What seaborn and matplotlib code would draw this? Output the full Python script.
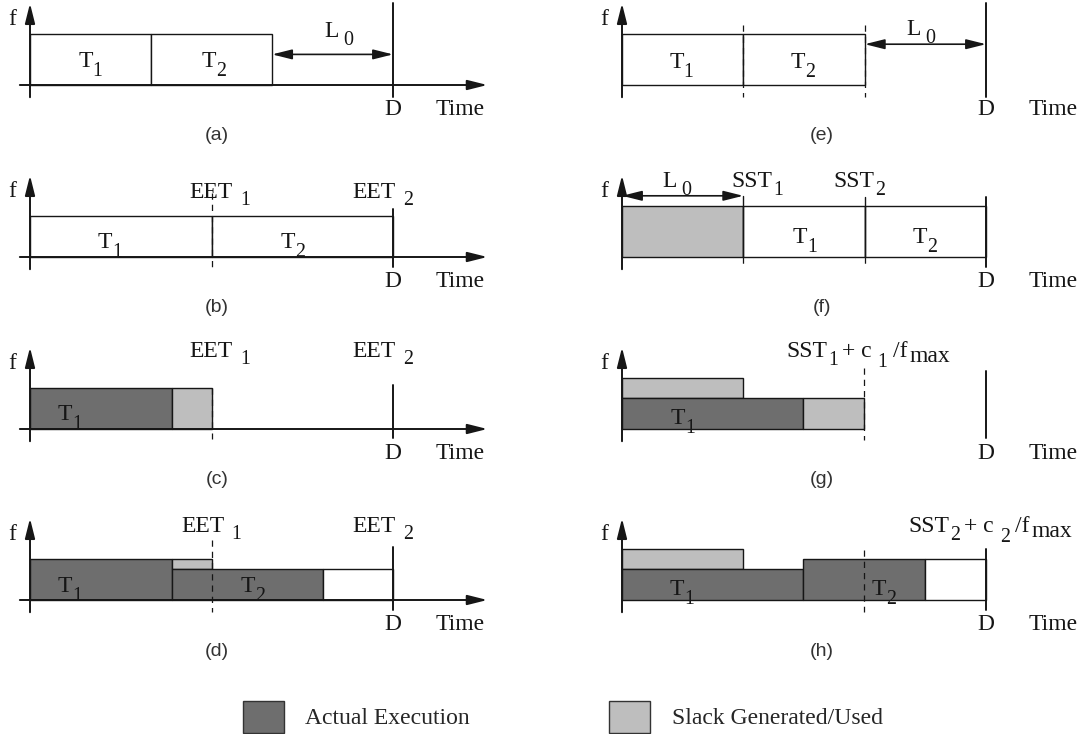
import matplotlib
matplotlib.use("Agg")
import matplotlib.pyplot as plt
import seaborn as sns
from matplotlib.patches import Patch

sns.set_theme(style="white")
plt.rcParams["font.family"] = ["Liberation Serif", "DejaVu Serif"]

# time is in units of the deadline D, frequency relative to f_max
# each block: (start, end, f_low, f_high, kind)
sched_a = [(0.0, 0.333, 0.0, 1.0, "open"), (0.333, 0.667, 0.0, 1.0, "open")]
sched_b = [(0.0, 0.5, 0.0, 0.8, "open"), (0.5, 1.0, 0.0, 0.8, "open")]
sched_c = [(0.0, 0.39, 0.0, 0.8, "exec"), (0.39, 0.5, 0.0, 0.8, "slack")]
sched_d = [(0.0, 0.39, 0.0, 0.8, "exec"), (0.39, 0.5, 0.6, 0.8, "slack"),
           (0.39, 0.807, 0.0, 0.6, "exec"), (0.807, 1.0, 0.0, 0.6, "open")]
sched_e = [(0.0, 0.333, 0.0, 1.0, "open"), (0.333, 0.667, 0.0, 1.0, "open")]
sched_f = [(0.0, 0.333, 0.0, 1.0, "slack"), (0.333, 0.667, 0.0, 1.0, "open"),
           (0.667, 1.0, 0.0, 1.0, "open")]
sched_g = [(0.0, 0.333, 0.6, 1.0, "slack"), (0.0, 0.497, 0.0, 0.6, "exec"),
           (0.497, 0.665, 0.0, 0.6, "slack")]
sched_h = [(0.0, 0.333, 0.6, 1.0, "slack"), (0.0, 0.497, 0.0, 0.6, "exec"),
           (0.497, 0.832, 0.0, 0.8, "exec"), (0.832, 1.0, 0.0, 0.8, "open")]

# slack L0 arrows: (from, to, level)
slack_a = [(0.667, 1.0, 0.6)]
slack_e = [(0.667, 1.0, 0.8)]
slack_f = [(0.0, 0.333, 1.2)]

# deadline line extent (top, bottom)
deadline = {"a": (1.6, -0.24), "b": (0.94, -0.2), "c": (0.86, -0.18), "d": (1.04, -0.2),
            "e": (1.6, -0.24), "f": (1.18, -0.2), "g": (1.14, -0.18), "h": (1.0, -0.2)}

# marker lines: (time, top, bottom, dashed)
marks = {
    "a": [],
    "b": [(0.5, 1.25, -0.22, True)],
    "c": [(0.5, 0.8, -0.2, True)],
    "d": [(0.5, 1.18, -0.24, True)],
    "e": [(0.333, 1.18, -0.24, True), (0.667, 1.18, -0.24, True)],
    "f": [(0.333, 1.2, 0.0, False), (0.667, 1.18, 0.0, False),
          (0.333, 0.0, -0.2, True), (0.667, 0.0, -0.2, True)],
    "g": [(0.665, 1.2, -0.22, True)],
    "h": [(0.665, 0.98, -0.24, True)],
}


def T(n):
    return [("T", 0, 0, 1.0), (n, 0, 9, 0.85)]


def EET(n):
    return [("EET", 0, 0, 1.0), (n, 7, 7, 0.85)]


def SST(n):
    return [("SST", 0, 0, 1.0), (n, 1, 8, 0.85)]


L0 = [("L", 0, 0, 1.0), ("0", 5, 8, 0.85)]


def formula(n):
    return [("SST", 0, 0, 1.0), (n, 1, 8, 0.85), ("+ c", 4, 0, 1.0),
            (n, 6, 10, 0.85), ("/f", 5, 0, 1.0), ("max", 2, 5, 1.0)]


labels = {
    "a": [(0.166, 0.35, T("1")), (0.507, 0.35, T("2")), (0.851, 0.94, L0)],
    "b": [(0.22, 0.18, T("1")), (0.725, 0.18, T("2")),
          (0.523, 1.16, EET("1")), (0.972, 1.16, EET("2"))],
    "c": [(0.11, 0.18, T("1")), (0.523, 1.41, EET("1")), (0.972, 1.41, EET("2"))],
    "d": [(0.11, 0.16, T("1")), (0.614, 0.16, T("2")),
          (0.499, 1.33, EET("1")), (0.972, 1.33, EET("2"))],
    "e": [(0.163, 0.33, T("1")), (0.497, 0.33, T("2")), (0.821, 0.98, L0)],
    "f": [(0.503, 0.27, T("1")), (0.832, 0.27, T("2")), (0.151, 1.37, L0),
          (0.371, 1.37, SST("1")), (0.651, 1.37, SST("2"))],
    "g": [(0.168, 0.1, T("1")), (0.676, 1.41, formula("1"))],
    "h": [(0.165, 0.1, T("1")), (0.72, 0.1, T("2")), (1.011, 1.33, formula("2"))],
}

DARK = "#6e6e6e"
LIGHT = "#bebebe"
FILL = {"open": "white", "exec": DARK, "slack": LIGHT}
INK = "#161616"
W, H = 1079, 734


def rich(ax, x, y, parts, size=17):
    r = ax.figure.canvas.get_renderer()
    items = []
    cx = 0.0
    for text, gap, drop, scale in parts:
        cx += gap
        t = ax.annotate(text, (x, y), xytext=(cx, -drop), textcoords="offset pixels",
                        ha="left", va="baseline", fontsize=size * scale, color=INK)
        items.append((t, cx, -drop))
        cx += t.get_window_extent(r).width
    for t, ox, oy in items:
        t.set_position((ox - cx / 2, oy))


fig = plt.figure(figsize=(W / 100, H / 100), dpi=100)

panels = [("a", sched_a, slack_a, 0, 85), ("b", sched_b, [], 0, 257),
          ("c", sched_c, [], 0, 429), ("d", sched_d, [], 0, 600),
          ("e", sched_e, slack_e, 1, 85), ("f", sched_f, slack_f, 1, 257),
          ("g", sched_g, [], 1, 429), ("h", sched_h, [], 1, 600)]

for key, sched, slack, col, base in panels:
    if col == 0:
        x0, wpx, origin, unit = 0, 540, 30, 363
        cap_x = 0.515
    else:
        x0, wpx, origin, unit = 540, 539, 622, 364
        cap_x = 0.55
    ax = fig.add_axes([x0 / W, 1 - (base + 85) / H, wpx / W, 170 / H])
    ax.set_xlim((x0 - origin) / unit, (x0 + wpx - origin) / unit)
    ax.set_ylim(-85 / 51, 85 / 51)
    ax.axis("off")

    for s, e, lo, hi, kind in sched:
        ax.bar(s, hi - lo, width=e - s, bottom=lo, align="edge",
               color=FILL[kind], edgecolor=INK, linewidth=1.0, zorder=2)

    for xm, top, bot, dashed in marks[key]:
        ax.plot([xm, xm], [top, bot], color=INK, lw=0.9 if dashed else 1.0,
                ls=(0, (5, 4)) if dashed else "-", zorder=3)

    top, bot = deadline[key]
    ax.plot([1.0, 1.0], [top, bot], color=INK, lw=1.4, zorder=3)

    # axes with arrow heads
    head = "-|>,head_length=0.6,head_width=0.15"
    ax.annotate("", xy=(1.26, 0), xytext=(-0.028, 0),
                arrowprops=dict(arrowstyle=head, color=INK, lw=1.4,
                                mutation_scale=20, shrinkA=0, shrinkB=0), zorder=4)
    ax.annotate("", xy=(0, 1.6), xytext=(0, -0.24),
                arrowprops=dict(arrowstyle=head, color=INK, lw=1.4,
                                mutation_scale=20, shrinkA=0, shrinkB=0), zorder=4)
    for a, b, lvl in slack:
        ax.annotate("", xy=(b, lvl), xytext=(a, lvl),
                    arrowprops=dict(arrowstyle="<|-|>,head_length=0.6,head_width=0.15",
                                    color=INK, lw=1.2, mutation_scale=20,
                                    shrinkA=0, shrinkB=0), zorder=4)

    ax.text(-0.048, 1.18, "f", ha="center", va="baseline", fontsize=17, color=INK)
    ax.text(1.0, -0.58, "D", ha="center", va="baseline", fontsize=17, color=INK)
    ax.text(1.185, -0.58, "Time", ha="center", va="baseline", fontsize=17, color=INK)
    ax.text(cap_x, -1.0, f"({key})", ha="center", va="center", fontsize=14,
            color="#333333", family=["Liberation Sans", "DejaVu Sans"])

    for lx, ly, parts in labels[key]:
        rich(ax, lx, ly, parts)

fig.legend(handles=[Patch(facecolor=DARK, edgecolor="#333333", lw=1.0, label="Actual Execution"),
                    Patch(facecolor=LIGHT, edgecolor="#333333", lw=1.0,
                          label="Slack Generated/Used")],
           loc="lower left", bbox_to_anchor=(243 / W, 1 / H), ncol=2, frameon=False,
           fontsize=17, handlelength=1.74, handleheight=1.74, handletextpad=0.9,
           columnspacing=5.9, borderpad=0, borderaxespad=0)

fig.savefig("out.png", dpi=100)
